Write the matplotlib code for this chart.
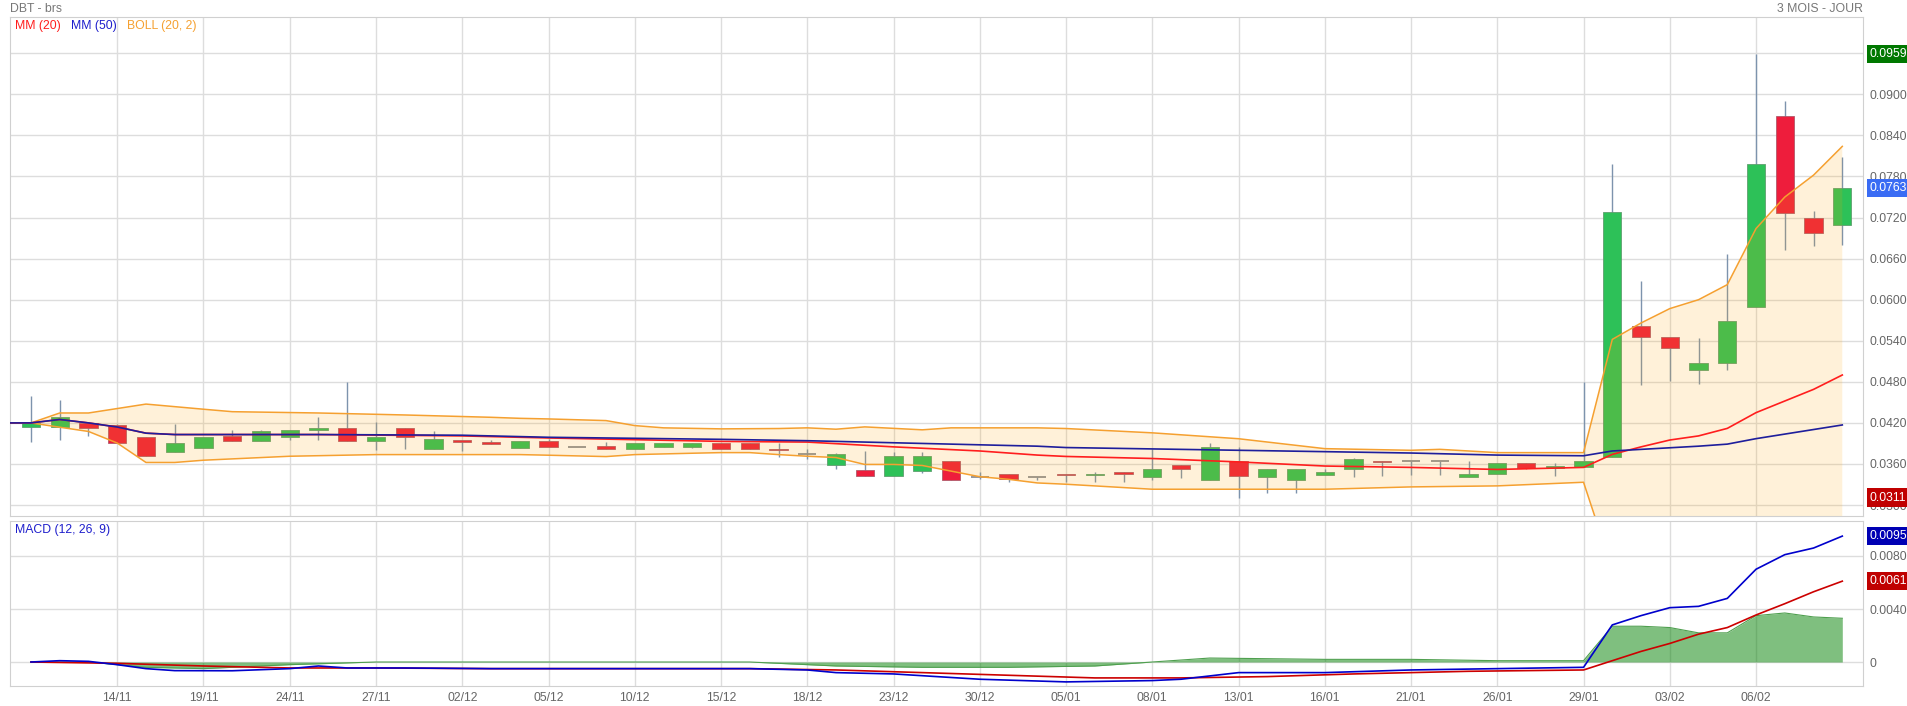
import numpy as np
import matplotlib
matplotlib.use('Agg')
import matplotlib.pyplot as plt
import matplotlib.transforms as mtransforms

plt.rcParams['font.family'] = ['Liberation Sans', 'DejaVu Sans']

W, H = 1908, 706

# ---- data (index = trading day) ----
date_labels = ['14/11', '19/11', '24/11', '27/11', '02/12', '05/12', '10/12', '15/12',
               '18/12', '23/12', '30/12', '05/01', '08/01', '13/01', '16/01', '21/01',
               '26/01', '29/01', '03/02', '06/02']
date_pos = list(range(3, 61, 3))

opens = [0.0414, 0.0414, 0.0420, 0.0417, 0.0400, 0.0378, 0.0384, 0.0401, 0.0394, 0.0399,
         0.0410, 0.0413, 0.0394, 0.0413, 0.0382, 0.0395, 0.0392, 0.0383, 0.0394, 0.0385,
         0.0386, 0.0382, 0.0385, 0.0385, 0.0391, 0.0391, 0.0382, 0.0375, 0.0359, 0.0351,
         0.0342, 0.0350, 0.0365, 0.0341, 0.0345, 0.0341, 0.0346, 0.0344, 0.0348, 0.0341,
         0.0359, 0.0337, 0.0365, 0.0341, 0.0337, 0.0344, 0.0352, 0.0365, 0.0364, 0.0364,
         0.0341, 0.0346, 0.0362, 0.0354, 0.0355, 0.0370, 0.0562, 0.0545, 0.0498, 0.0508,
         0.0590, 0.0869, 0.0719, 0.0709]
highs = [0.0460, 0.0454, 0.0420, 0.0418, 0.0400, 0.0419, 0.0400, 0.0409, 0.0409, 0.0410,
         0.0429, 0.0480, 0.0422, 0.0413, 0.0408, 0.0395, 0.0395, 0.0394, 0.0396, 0.0385,
         0.0392, 0.0391, 0.0391, 0.0391, 0.0391, 0.0391, 0.0390, 0.0382, 0.0376, 0.0379,
         0.0377, 0.0377, 0.0365, 0.0349, 0.0345, 0.0341, 0.0346, 0.0348, 0.0348, 0.0382,
         0.0359, 0.0390, 0.0385, 0.0353, 0.0353, 0.0353, 0.0369, 0.0365, 0.0364, 0.0364,
         0.0364, 0.0361, 0.0362, 0.0362, 0.0480, 0.0798, 0.0627, 0.0545, 0.0544, 0.0667,
         0.0959, 0.0890, 0.0730, 0.0809]
lows = [0.0392, 0.0395, 0.0401, 0.0391, 0.0372, 0.0378, 0.0384, 0.0394, 0.0394, 0.0395,
        0.0395, 0.0394, 0.0381, 0.0382, 0.0382, 0.0379, 0.0389, 0.0383, 0.0385, 0.0385,
        0.0382, 0.0382, 0.0385, 0.0383, 0.0382, 0.0382, 0.0370, 0.0367, 0.0352, 0.0342,
        0.0342, 0.0347, 0.0337, 0.0338, 0.0334, 0.0336, 0.0333, 0.0333, 0.0333, 0.0336,
        0.0340, 0.0337, 0.0311, 0.0318, 0.0317, 0.0344, 0.0341, 0.0343, 0.0344, 0.0344,
        0.0341, 0.0346, 0.0352, 0.0343, 0.0355, 0.0370, 0.0475, 0.0481, 0.0477, 0.0497,
        0.0590, 0.0673, 0.0679, 0.0680]
closes = [0.0420, 0.0429, 0.0413, 0.0391, 0.0372, 0.0391, 0.0400, 0.0394, 0.0408, 0.0410,
          0.0413, 0.0394, 0.0400, 0.0399, 0.0396, 0.0392, 0.0389, 0.0394, 0.0385, 0.0385,
          0.0382, 0.0391, 0.0391, 0.0391, 0.0382, 0.0382, 0.0380, 0.0375, 0.0374, 0.0342,
          0.0372, 0.0372, 0.0337, 0.0341, 0.0338, 0.0341, 0.0344, 0.0346, 0.0346, 0.0352,
          0.0352, 0.0385, 0.0342, 0.0353, 0.0353, 0.0348, 0.0367, 0.0363, 0.0364, 0.0364,
          0.0346, 0.0361, 0.0354, 0.0357, 0.0364, 0.0728, 0.0545, 0.0530, 0.0508, 0.0569,
          0.0798, 0.0726, 0.0697, 0.0763]

mm50_x = [-1, 0, 1, 2, 3, 4, 5, 10, 15, 17, 18, 24, 27, 30, 33, 35, 36, 39, 42, 45, 48, 51,
          54, 55, 58, 59, 60, 63]
mm50_y = [0.0420, 0.0420, 0.0425, 0.0420, 0.0414, 0.0405, 0.0403, 0.0403, 0.0402, 0.0400,
          0.0399, 0.0396, 0.0394, 0.0391, 0.0388, 0.0386, 0.0384, 0.0382, 0.0380, 0.0378,
          0.0376, 0.0373, 0.0372, 0.0379, 0.0386, 0.0389, 0.0397, 0.0417]

mm20_x = [-1, 0, 1, 2, 3, 4, 5, 10, 15, 17, 18, 24, 27, 30, 33, 35, 36, 39, 42, 45, 48, 51,
          54, 55, 56, 57, 58, 59, 60, 61, 62, 63]
mm20_y = [0.0420, 0.0420, 0.0425, 0.0420, 0.0414, 0.0405, 0.0403, 0.0403, 0.0401, 0.0399,
          0.0398, 0.0393, 0.0392, 0.0385, 0.0379, 0.0373, 0.0371, 0.0368, 0.0363, 0.0357,
          0.0355, 0.0352, 0.0355, 0.0374, 0.0385, 0.0395, 0.0401, 0.0412, 0.0435, 0.0452,
          0.0469, 0.0490]

boll_up_x = [-1, 0, 1, 2, 4, 6, 7, 10, 13, 16, 17, 18, 20, 21, 22, 24, 26, 27, 28, 29, 31,
             32, 35, 36, 39, 42, 45, 48, 49, 51, 54, 55, 56, 57, 58, 59, 60, 61, 62, 63]
boll_up_y = [0.0420, 0.0420, 0.04345, 0.04345, 0.04475, 0.0440, 0.04364, 0.04345, 0.04316,
             0.04282, 0.04267, 0.04258, 0.04234, 0.04161, 0.04128, 0.04113, 0.04118,
             0.04128, 0.04108, 0.04142, 0.04099, 0.04128, 0.04128, 0.04118, 0.04055,
             0.03969, 0.03824, 0.0380, 0.03814, 0.03766, 0.03766, 0.0542, 0.0566, 0.0587,
             0.0600, 0.0622, 0.0704, 0.0750, 0.0782, 0.0824]

boll_lo_x = [-1, 0, 1, 2, 3, 4, 5, 6, 9, 12, 17, 18, 20, 21, 23, 24, 25, 26, 27, 28, 29,
             30, 31, 32, 33, 34, 35, 36, 39, 42, 45, 48, 51, 54, 55, 56, 57, 58, 59, 60, 61,
             62, 63]
boll_lo_y = [0.0420, 0.0420, 0.04137, 0.04075, 0.03906, 0.03622, 0.03622, 0.03655, 0.03713,
             0.03737, 0.03737, 0.03728, 0.03708, 0.03737, 0.03757, 0.03766, 0.03766,
             0.03737, 0.03713, 0.03694, 0.03593, 0.03593, 0.03578, 0.03496, 0.03414,
             0.03376, 0.03323, 0.03304, 0.03231, 0.03231, 0.03231, 0.03265, 0.0328,
             0.03333, 0.0206, 0.0204, 0.0203, 0.0202, 0.0202, 0.0166, 0.0154, 0.0156, 0.0156]

macd_x = [0, 1, 2, 3, 4, 5, 7, 9, 10, 11, 13, 16, 19, 22, 25, 27, 28, 30, 33, 36, 39, 40,
          42, 45, 48, 51, 54, 55, 56, 57, 58, 59, 60, 61, 62, 63]
macd_y = [0.0, 0.0001, 0.00005, -0.0002, -0.0005, -0.00065, -0.00066, -0.0005, -0.0003,
          -0.00045, -0.00045, -0.0005, -0.0005, -0.0005, -0.0005, -0.0006, -0.0008, -0.0009,
          -0.0013, -0.0015, -0.0014, -0.0013, -0.0008, -0.0008, -0.0006, -0.0005, -0.0004,
          0.0028, 0.0035, 0.0041, 0.0042, 0.0048, 0.0070, 0.0081, 0.0086, 0.0095]

signal_x = [0, 3, 6, 9, 12, 16, 20, 25, 28, 31, 34, 37, 40, 43, 46, 50, 54, 55, 56, 57, 58,
            59, 60, 61, 62, 63]
signal_y = [0.0, -0.0001, -0.0003, -0.00045, -0.00045, -0.0005, -0.0005, -0.0005, -0.0006,
            -0.0008, -0.0010, -0.0012, -0.0012, -0.0011, -0.0009, -0.0007, -0.0006, 0.0001,
            0.0008, 0.0014, 0.0021, 0.0026, 0.00355, 0.0044, 0.0053, 0.0061]

hist_x = [0, 2, 4, 6, 9, 12, 16, 20, 25, 28, 31, 34, 37, 39, 41, 45, 48, 51, 54, 55, 56, 57,
          58, 59, 60, 61, 62, 63]
hist_y = [0.0, 0.0, -0.0004, -0.0005, -0.0002, 0.0, 0.0, 0.0, 0.0, -0.0003, -0.0004,
          -0.0004, -0.0003, 0.0, 0.0003, 0.0002, 0.0002, 0.0001, 0.0001, 0.0027, 0.0027,
          0.0026, 0.0022, 0.0022, 0.0035, 0.0037, 0.0034, 0.0033]

last_price = 0.0763
max_price = 0.0959
min_price = 0.0311
last_macd = 0.0095
last_signal = 0.0061

# ---- layout ----
fig = plt.figure(figsize=(W / 100, H / 100), dpi=100)
x0, x1 = 10, 1863


def box(top, bottom):
    return [x0 / W, 1 - bottom / H, (x1 - x0) / W, (bottom - top) / H]


ax = fig.add_axes(box(17, 516))
axm = fig.add_axes(box(521, 686))

xmin, xmax = -0.73, 63.72
grid_c = '#dddddd'
txt_c = '#666666'
fs = 8.8

for a in (ax, axm):
    a.set_xlim(xmin, xmax)
    a.set_xticks(date_pos)
    a.grid(True, color=grid_c, lw=1)
    a.set_axisbelow(True)
    for s in a.spines.values():
        s.set_color('#d0d0d0')
    a.yaxis.tick_right()
    a.tick_params(length=0, labelsize=fs, colors=txt_c, pad=5)

ax.set_xticklabels([])
axm.set_xticklabels(date_labels)
axm.tick_params(axis='x', pad=4)

# ---- price panel ----
ax.set_ylim(0.0284, 0.1013)
yt = np.arange(0.030, 0.0961, 0.006)
ax.set_yticks(yt)
ax.set_yticklabels(['%.4f' % v for v in yt])

green, red = '#2dc158', '#ee1d3c'
n = len(opens)
idx = np.arange(n)
o = np.array(opens)
c = np.array(closes)
wick_c = '#7d93ad'
ax.vlines(idx, lows, highs, color=wick_c, lw=1, zorder=2)
up = c > o
dn = c < o
flat = c == o
ax.bar(idx[up], (c - o)[up], bottom=o[up], width=0.64, color=green,
       edgecolor='#5f9f6f', lw=0.6, zorder=2.5)
ax.bar(idx[dn], (o - c)[dn], bottom=c[dn], width=0.64, color=red,
       edgecolor='#b05a6a', lw=0.6, zorder=2.5)
ax.hlines(c[flat], idx[flat] - 0.32, idx[flat] + 0.32, color='#8a8f98', lw=1.3, zorder=2.5)

ax.fill(np.r_[boll_up_x, boll_lo_x[::-1]], np.r_[boll_up_y, boll_lo_y[::-1]],
        color='orange', alpha=0.15, lw=0, zorder=3)
ax.plot(boll_up_x, boll_up_y, color='#f5a030', lw=1.1, zorder=4)
ax.plot(boll_lo_x, boll_lo_y, color='#f5a030', lw=1.1, zorder=4)
ax.plot(mm20_x, mm20_y, color='#ff1e1e', lw=1.2, zorder=4)
ax.plot(mm50_x, mm50_y, color='#1e1e9c', lw=1.2, zorder=4.5)

# ---- MACD panel ----
axm.set_ylim(-0.00181, 0.01064)
axm.set_yticks([0, 0.004, 0.008])
axm.set_yticklabels(['0', '0.0040', '0.0080'])
axm.fill_between(hist_x, 0, hist_y, color='green', alpha=0.5, lw=0, zorder=2)
axm.plot(hist_x, hist_y, color='#4f9f4f', lw=0.8, zorder=2)
axm.plot(signal_x, signal_y, color='#cc0000', lw=1.2, zorder=3)
axm.plot(macd_x, macd_y, color='#0000cc', lw=1.2, zorder=3)


# ---- value boxes on the right ----
def value_box(a, y, text, col):
    tr = mtransforms.blended_transform_factory(a.transAxes, a.transData)
    a.text(1.0036, y, text, transform=tr, ha='left', va='center', fontsize=fs,
           color='white', clip_on=False, zorder=10,
           bbox=dict(boxstyle='square,pad=0.25', fc=col, ec='none'))


value_box(ax, max_price, '%.4f' % max_price, '#007800')
value_box(ax, last_price, '%.4f' % last_price, '#3a6cf4')
value_box(ax, min_price, '%.4f' % min_price, '#c00000')
value_box(axm, last_macd, '%.4f' % last_macd, '#0000b4')
value_box(axm, last_signal, '%.4f' % last_signal, '#c00000')


# ---- texts ----
def ftext(x, y, s, **kw):
    fig.text(x / W, 1 - y / H, s, fontsize=fs, va='center', **kw)


ftext(10, 9, 'DBT - brs', color='#777777')
ftext(1863, 9, '3 MOIS - JOUR', color='#777777', ha='right')
ftext(15, 26, 'MM (20)', color='#ff1e1e')
ftext(71, 26, 'MM (50)', color='#1e1ecc')
ftext(127, 26, 'BOLL (20, 2)', color='#f5a030')
ftext(15, 530, 'MACD (12, 26, 9)', color='#1e1ecc')

fig.savefig('out.png', dpi=100)
